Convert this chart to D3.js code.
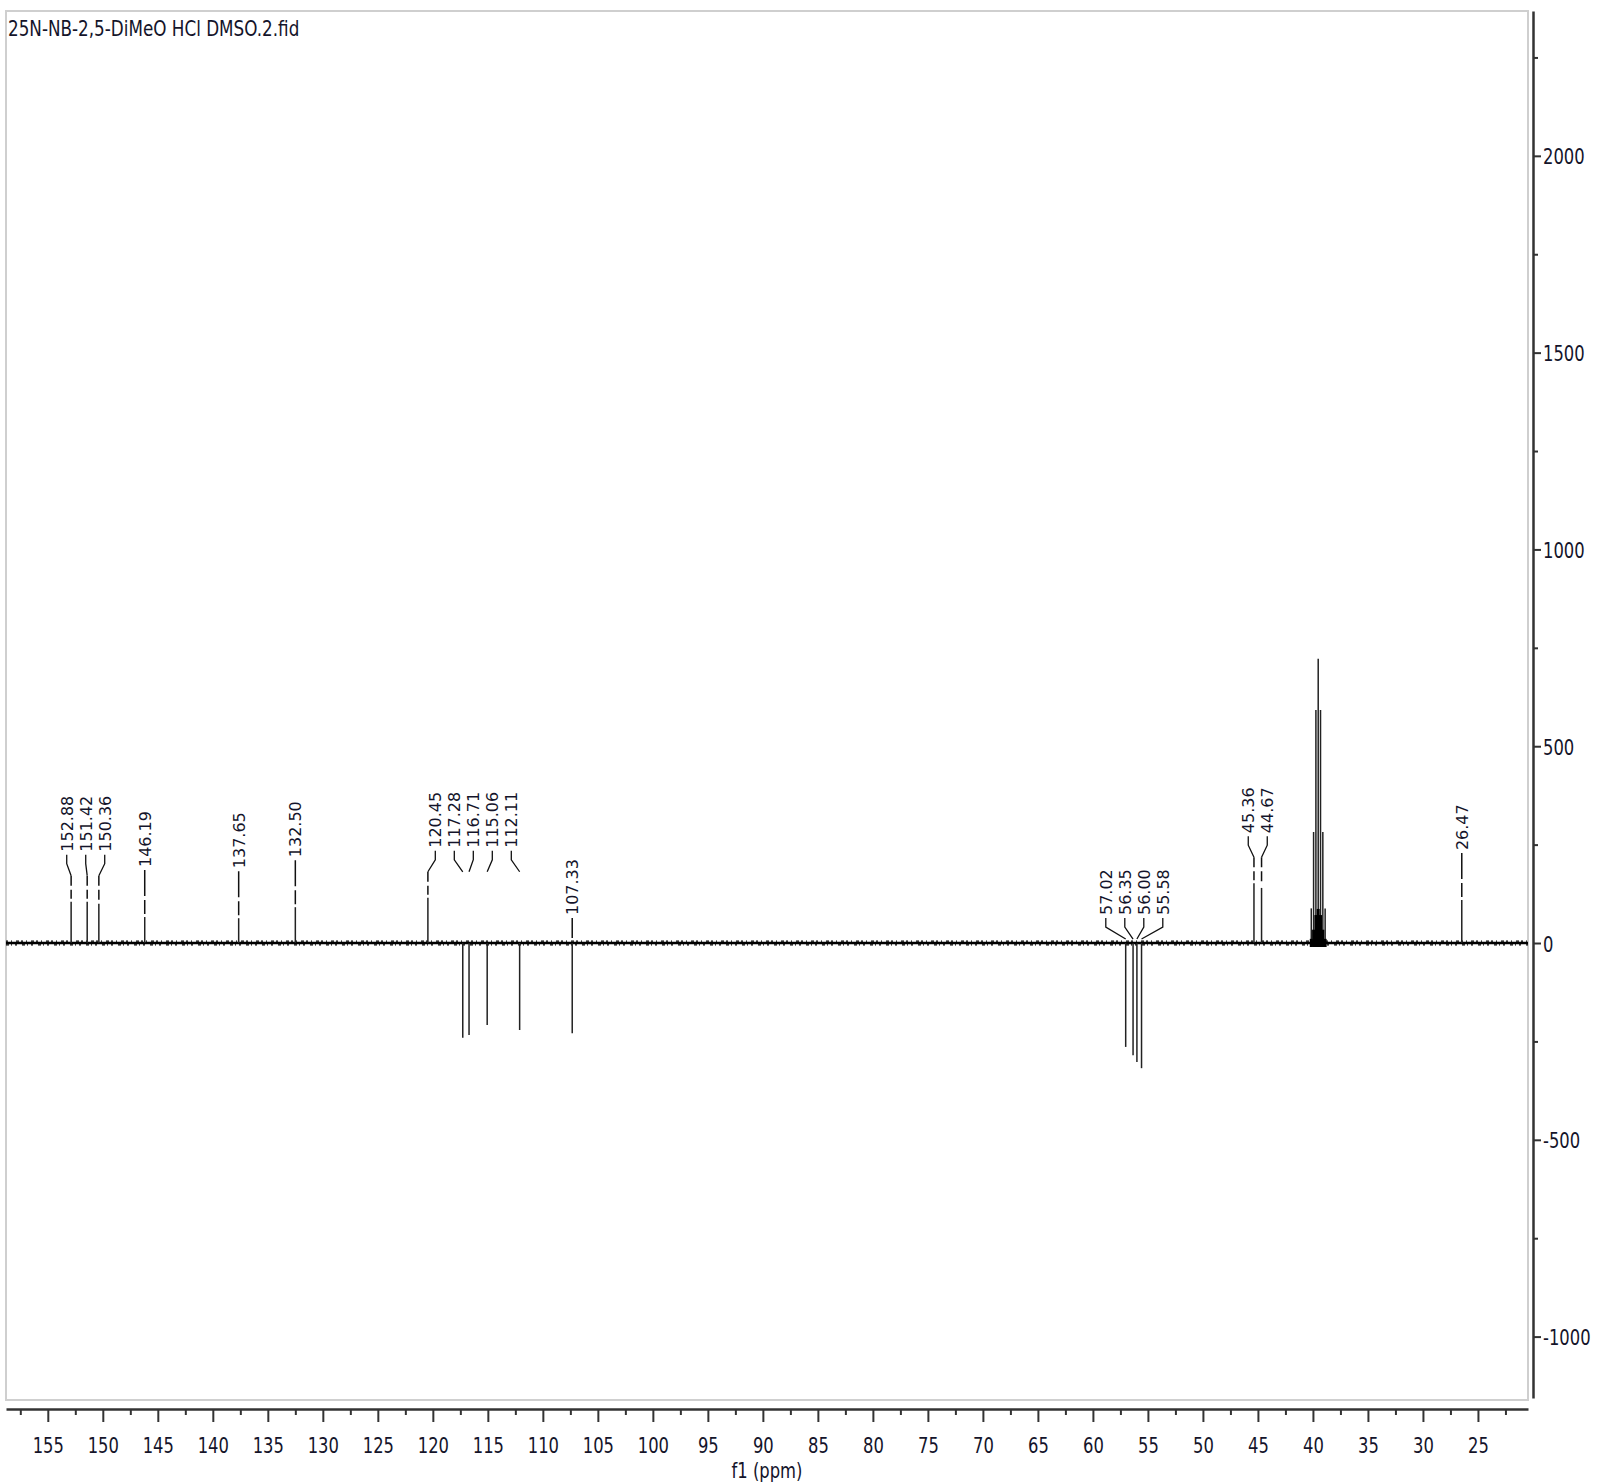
<!DOCTYPE html>
<html><head><meta charset="utf-8">
<script src="https://cdn.jsdelivr.net/npm/d3@7"></script>
<style>html,body{margin:0;padding:0;background:#fff;} svg{display:block;}</style>
</head><body>
<script>
// ---------- data ----------
const chartTitle = "25N-NB-2,5-DiMeO HCl DMSO.2.fid";
const xAxisTitle = "f1 (ppm)";
const peakPpm    = [152.88,151.42,150.36,146.19,137.65,132.50,120.45,117.28,116.71,115.06,112.11,107.33,57.02,56.35,56.00,55.58,45.36,44.67,26.47];
const peakHeight = [105,105,100,66,63,91,115,-241,-234,-208,-221,-229,-264,-285,-302,-318,152,140,109];
const solventPpm    = [40.15,39.94,39.73,39.52,39.31,39.10,38.89];
const solventHeight = [88,282,592,722,592,282,88];
const labelGroups = [[152.88,151.42,150.36],[146.19],[137.65],[132.50],[120.45,117.28,116.71,115.06,112.11],[107.33],[57.02,56.35,56.00,55.58],[45.36,44.67],[26.47]];
const xMajorTicks = [155,150,145,140,135,130,125,120,115,110,105,100,95,90,85,80,75,70,65,60,55,50,45,40,35,30,25];
const xMinorTicks = [157.5,152.5,147.5,142.5,137.5,132.5,127.5,122.5,117.5,112.5,107.5,102.5,97.5,92.5,87.5,82.5,77.5,72.5,67.5,62.5,57.5,52.5,47.5,42.5,37.5,32.5,27.5,22.5];
const yMajorTicks = [2000,1500,1000,500,0,-500,-1000];
const yMinorTicks = [2250,1750,1250,750,250,-250,-750];
const xDomain = [158.8, 20.45];
const yDomain = [-1156, 2368];

// ---------- layout ----------
const W = 1597, H = 1484;
const plot = {left: 6, right: 1528, top: 11, bottom: 1398};
const svg = d3.select("body").append("svg").attr("width", W).attr("height", H);

const x = d3.scaleLinear().domain(xDomain).range([plot.left, plot.right]);
const y = d3.scaleLinear().domain(yDomain).range([plot.bottom, plot.top]);

const axisFont = "'DejaVu Sans', sans-serif";
const textCol = "#14142a";
const FS = 21, SX = 0.78;
const plain = d => String(d);   // hyphen-minus like the reference

// frame
svg.append("rect").attr("x", plot.left).attr("y", plot.top)
  .attr("width", plot.right - plot.left).attr("height", 1400 - plot.top)
  .attr("fill", "none").attr("stroke", "#cfcfcf").attr("stroke-width", 2);

// title
svg.append("text").attr("transform", `translate(8,36) scale(0.8,1)`)
  .attr("font-family", axisFont).attr("font-size", FS).attr("fill", textCol)
  .text(chartTitle);

// baseline (noise band)
const baseY = y(0);
svg.append("path").datum(xDomain).attr("d", d3.line().x(d => x(d)).y(() => baseY))
  .attr("stroke", "#000").attr("stroke-width", 2.6).attr("fill", "none");
svg.append("path").datum(xDomain).attr("d", d3.line().x(d => x(d)).y(() => baseY - 1.8))
  .attr("stroke", "#000").attr("stroke-width", 1.3).attr("fill", "none").attr("stroke-dasharray", "2,3,1,4,3,2");
svg.append("path").datum(xDomain).attr("d", d3.line().x(d => x(d)).y(() => baseY + 1.8))
  .attr("stroke", "#000").attr("stroke-width", 1.3).attr("fill", "none").attr("stroke-dasharray", "3,2,1,3,2,5");

// peaks
const peaks = peakPpm.map((p, i) => ({ppm: p, h: peakHeight[i]}));
const solvent = solventPpm.map((p, i) => ({ppm: p, h: solventHeight[i]}));
svg.append("g").selectAll("line").data(peaks.concat(solvent)).join("line")
  .attr("x1", d => x(d.ppm)).attr("x2", d => x(d.ppm))
  .attr("y1", baseY).attr("y2", d => y(d.h))
  .attr("stroke", "#222").attr("stroke-width", 1.5);
// solvent multiplet body
svg.append("g").selectAll("line").data(solvent).join("line")
  .attr("x1", d => x(d.ppm)).attr("x2", d => x(d.ppm))
  .attr("y1", baseY + 4).attr("y2", d => y(d.h * 0.12))
  .attr("stroke", "#000").attr("stroke-width", 3);

// peak labels
const fmt = d3.format(".2f");
const hOf = p => peaks.find(d => d.ppm === p).h;
const lab = svg.append("g");
labelGroups.forEach(g => {
  const items = g.map(p => ({ppm: p, h: hOf(p), px: x(p)}));
  const topVal = d3.max(items, d => Math.max(d.h, 0));
  const lb = y(topVal) - (topVal > 0 ? 50 : 28);
  const n = items.length;
  const mean = d3.mean(items, d => d.px);
  items.forEach((d, i) => {
    const lx = n === 1 ? d.px : mean + (i - (n - 1) / 2) * 19;
    lab.append("text").attr("transform", `translate(${lx + 6},${lb}) rotate(-90)`)
      .attr("font-family", axisFont).attr("font-size", 16).attr("fill", textCol)
      .text(fmt(d.ppm));
    if (n === 1) {
      const end = d.h > 0 ? y(d.h) - 3 : baseY - 5;
      lab.append("path").attr("d", `M${lx},${lb + 3}V${end}`)
        .attr("stroke", "#111").attr("stroke-width", 1.5).attr("fill", "none")
        .attr("stroke-dasharray", "26,4");
    } else {
      lab.append("path").attr("d", `M${lx},${lb + 3}V${lb + 12}L${d.px},${lb + 24}`)
        .attr("stroke", "#111").attr("stroke-width", 1.3).attr("fill", "none");
      if (d.h > 0) {
        lab.append("path").attr("d", `M${d.px},${lb + 24}V${y(d.h) - 3}`)
          .attr("stroke", "#111").attr("stroke-width", 1.5).attr("fill", "none")
          .attr("stroke-dasharray", "10,4");
      }
    }
  });
});

// x axis
const xg = svg.append("g").attr("transform", `translate(0,1409)`);
xg.call(d3.axisBottom(x).tickValues(xMajorTicks).tickSize(13).tickSizeOuter(0).tickFormat(plain));
xg.select(".domain").attr("stroke", "#333").attr("stroke-width", 2.5);
xg.selectAll(".tick line").attr("stroke", "#333").attr("stroke-width", 2);
xg.selectAll(".tick text").attr("dy", null).attr("y", null)
  .attr("transform", `translate(0,44) scale(${SX},1)`)
  .attr("font-family", axisFont).attr("font-size", FS).attr("fill", textCol);
const xmg = svg.append("g").attr("transform", `translate(0,1409)`);
xmg.call(d3.axisBottom(x).tickValues(xMinorTicks).tickSize(6).tickSizeOuter(0).tickFormat(""));
xmg.select(".domain").remove();
xmg.selectAll(".tick line").attr("stroke", "#333").attr("stroke-width", 2);

svg.append("text").attr("transform", `translate(${(plot.left + plot.right) / 2},1478) scale(${SX},1)`)
  .attr("text-anchor", "middle").attr("font-family", axisFont).attr("font-size", FS).attr("fill", textCol)
  .text(xAxisTitle);

// y axis (right)
const yg = svg.append("g").attr("transform", `translate(1533,0)`);
yg.call(d3.axisRight(y).tickValues(yMajorTicks).tickSize(8).tickSizeOuter(0).tickFormat(plain));
yg.select(".domain").attr("stroke", "#333").attr("stroke-width", 2.5);
yg.selectAll(".tick line").attr("stroke", "#333").attr("stroke-width", 2);
yg.selectAll(".tick text").attr("x", null).attr("dy", null)
  .attr("transform", `translate(10,8) scale(${SX},1)`)
  .attr("text-anchor", "start")
  .attr("font-family", axisFont).attr("font-size", FS).attr("fill", textCol);
const ymg = svg.append("g").attr("transform", `translate(1533,0)`);
ymg.call(d3.axisRight(y).tickValues(yMinorTicks).tickSize(5).tickSizeOuter(0).tickFormat(""));
ymg.select(".domain").remove();
ymg.selectAll(".tick line").attr("stroke", "#333").attr("stroke-width", 2);
</script>
</body></html>
